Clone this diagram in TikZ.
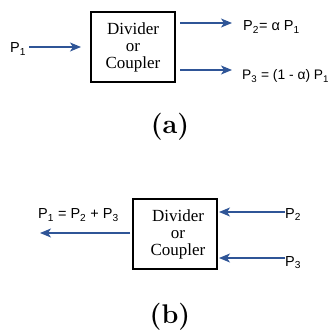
\documentclass[tikz,border=0pt]{standalone}
\usepackage{fontspec}
\setmainfont{Latin Modern Roman}
\newfontfamily\labfont{Liberation Sans}
\newfontfamily\boxfont{Liberation Serif}
\usetikzlibrary{arrows.meta}
\definecolor{arrowblue}{HTML}{2F5597}
\newcommand\sbs[1]{\textsubscript{#1}}
\tikzset{
  blk/.style={draw=black, line width=1.2pt, minimum width=84pt, minimum height=70pt, inner sep=0pt},
  blktext/.style={align=center, font=\boxfont\fontsize{17}{17}\selectfont, inner sep=0pt},
  lab/.style={font=\labfont\fontsize{14.5}{14.5}\selectfont, inner sep=0pt},
  flow/.style={draw=arrowblue, line width=1.2pt, -{Stealth[length=11pt,width=9pt,inset=3pt]}},
  captext/.style={font=\bfseries\fontsize{27}{27}\selectfont, inner sep=0pt}
}
\begin{document}
\begin{tikzpicture}[x=1pt,y=-1pt]
\useasboundingbox (0,0) rectangle (332,331);
% (a)
\node[blk] (boxa) at (133,47) {};
\node[blktext] (ta) at (133,47) {Divider\\or\\Coupler};
\node[lab, anchor=base west] (p1a) at (10,53) {P\sbs{1}};
\coordinate (ina) at (29,47);
\coordinate (tipa) at (81,47);
\coordinate (outa1) at (180,23);
\coordinate (outa2) at (180,70);
\node[lab, anchor=base west] (p2a) at (243,31) {P\sbs{2}= α P\sbs{1}};
\node[lab, anchor=base west, font=\labfont\fontsize{13.8}{13.8}\selectfont] (p3a) at (242,80) {P\sbs{3} = (1 - α) P\sbs{1}};
\coordinate (enda1) at (232,23);
\coordinate (enda2) at (232,70);
\draw[flow] (ina) -- (tipa);
\draw[flow] (outa1) -- (enda1);
\draw[flow] (outa2) -- (enda2);
\node[captext] (capa) at (170,127) {(a)};
% (b)
\node[blk] (boxb) at (175,234) {};
\node[blktext] (tb) at (178,234) {Divider\\or\\Coupler};
\node[lab, anchor=base west] (p1b) at (38,219) {P\sbs{1} = P\sbs{2} + P\sbs{3}};
\node[lab, anchor=base west] (p2b) at (285,218.5) {P\sbs{2}};
\node[lab, anchor=base west] (p3b) at (285,266) {P\sbs{3}};
\coordinate (outb) at (130,233);
\coordinate (endb) at (40,233);
\coordinate (inb2) at (285,212);
\coordinate (inb3) at (285,258);
\coordinate (tipb2) at (219,212);
\coordinate (tipb3) at (219,258);
\draw[flow] (outb) -- (endb);
\draw[flow] (inb2) -- (tipb2);
\draw[flow] (inb3) -- (tipb3);
\node[captext] (capb) at (170,316.7) {(b)};
\end{tikzpicture}
\end{document}
